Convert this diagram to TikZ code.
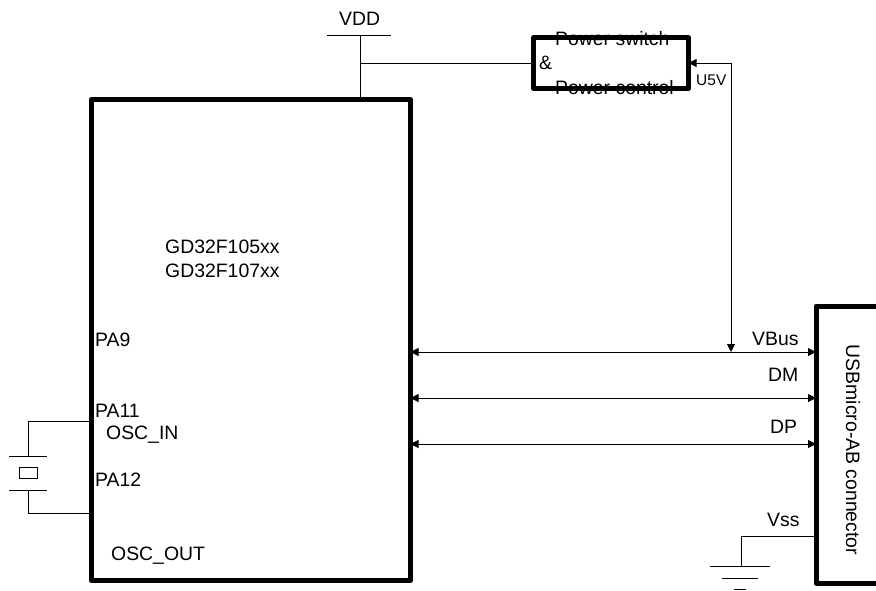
\documentclass[tikz,border=0pt]{standalone}
\usepackage{fontspec}
\setmainfont{Liberation Sans}
\usetikzlibrary{arrows.meta}
\tikzset{
  thickbox/.style={draw=black,line width=5pt,line join=round,rectangle,outer sep=0pt,inner sep=0pt},
  wire/.style={draw=black,line width=1pt},
  dbl/.style={wire,{Triangle[length=8pt,width=8pt]}-{Triangle[length=8pt,width=8pt]}},
  sgl/.style={wire,-{Triangle[length=8pt,width=8pt]}},
  lab/.style={inner sep=0pt,anchor=base west,font=\fontsize{19.4pt}{21pt}\selectfont},
  smalllab/.style={inner sep=0pt,anchor=base west,font=\fontsize{15.5pt}{17pt}\selectfont},
  bar/.style={draw=black,line width=1pt}
}
\begin{document}
\begin{tikzpicture}[x=1pt,y=-1pt]
\useasboundingbox (0,0) rectangle (876,590);
\clip (0,0) rectangle (876,590);
% texts under the boxes
\node[lab] (t1) at (555,45) {Power switch};
\node[lab] (t2) at (539,69) {\&};
\node[lab] (t3) at (555,94) {Power control};
% boxes
\node[thickbox,minimum width=319pt,minimum height=481pt] (main) at (251,340) {};
\node[thickbox,minimum width=155pt,minimum height=51pt] (power) at (611,63) {};
\node[thickbox,minimum width=100pt,minimum height=277pt] (conn) at (866,444.5) {};
% labels
\node[lab] (vdd) at (339,25) {VDD};
\node[smalllab] (u5v) at (696,85) {U5V};
\node[lab] at (165,253) {GD32F105xx};
\node[lab] at (165,277) {GD32F107xx};
\node[lab] at (95,346) {PA9};
\node[lab] at (95,417) {PA11};
\node[lab] at (106,439) {OSC\_IN};
\node[lab] at (95,486) {PA12};
\node[lab] at (111,560) {OSC\_OUT};
\node[lab] at (752,345) {VBus};
\node[lab] at (768,381) {DM};
\node[lab] at (770,433) {DP};
\node[lab] at (767,526) {Vss};
\node[lab,anchor=center,rotate=-90] (usb) at (853,450) {USBmicro-AB connector};
% VDD rail
\coordinate (vl) at (327,35);
\coordinate (vr) at (391,35);
\coordinate (vm) at (360,35);
\coordinate (vj) at (360,63);
\draw[bar] (vl) -- (vr);
\draw[wire] (vm) -- (main.north -| vm);
\draw[wire] (vj) -- (power.west);
% U5V
\coordinate (uc) at (731,63);
\coordinate (ub) at (731,352);
\draw[sgl] (uc) -- (power.east);
\draw[sgl] (uc) -- (ub);
% bus
\coordinate (y1) at (600,352);
\coordinate (y2) at (600,398);
\coordinate (y3) at (600,444);
\draw[dbl] (main.east |- y1) -- (conn.west |- y1);
\draw[dbl] (main.east |- y2) -- (conn.west |- y2);
\draw[dbl] (main.east |- y3) -- (conn.west |- y3);
% Vss ground
\coordinate (g0) at (741,536);
\coordinate (g1) at (741,566);
\draw[wire] (conn.west |- g0) -- (g0) -- (g1);
\coordinate (ga) at (710,566); \coordinate (gb) at (770,566);
\coordinate (gc) at (722,578); \coordinate (gd) at (758,578);
\coordinate (ge) at (734,589); \coordinate (gf) at (746,589);
\draw[bar] (ga) -- (gb);
\draw[bar] (gc) -- (gd);
\draw[bar] (ge) -- (gf);
% crystal
\node[draw=black,line width=1pt,rectangle,minimum width=18pt,minimum height=11pt,inner sep=0pt,outer sep=0pt] (xtal) at (28,472.5) {};
\coordinate (c1) at (28,421.5);
\coordinate (c2) at (28,456);
\coordinate (c3) at (28,490);
\coordinate (c4) at (28,513.5);
\coordinate (ba) at (9,456); \coordinate (bb) at (47,456);
\coordinate (bc) at (9,490); \coordinate (bd) at (47,490);
\draw[wire] (main.west |- c1) -- (c1) -- (c2);
\draw[wire] (c3) -- (c4) -- (main.west |- c4);
\draw[bar] (ba) -- (bb);
\draw[bar] (bc) -- (bd);
\end{tikzpicture}
\end{document}
